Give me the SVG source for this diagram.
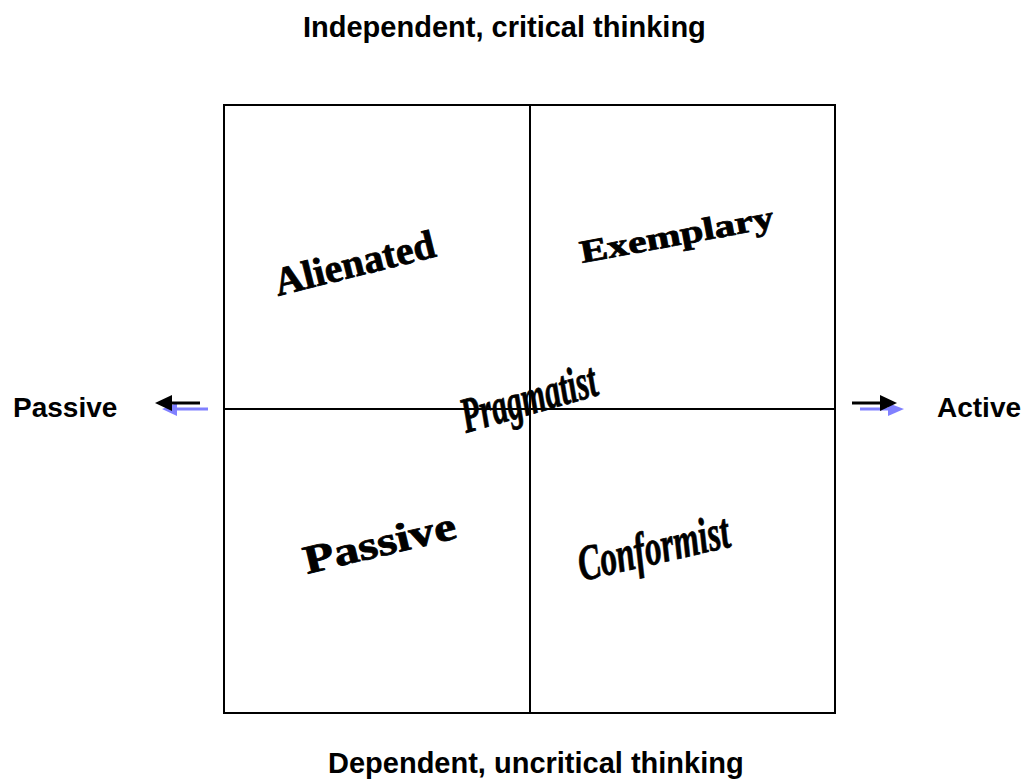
<svg xmlns="http://www.w3.org/2000/svg" width="1025" height="779" viewBox="0 0 1025 779">
<style>
.lbl{font-family:"Liberation Sans",Arial,sans-serif;font-weight:bold;font-size:29px;fill:#000}
.side{font-family:"Liberation Sans",Arial,sans-serif;font-weight:bold;font-size:28px;fill:#000}
.wa{font-family:"Liberation Serif","Times New Roman",serif;font-weight:bold;fill:#000;stroke:#000;stroke-width:0.8}
.wai{font-family:"Liberation Serif","Times New Roman",serif;font-weight:bold;font-style:italic;fill:#000;stroke:#000;stroke-width:0.8}
.ln{stroke:#000;stroke-width:2;fill:none}
.blk{stroke:#000;stroke-width:3}
.blu{stroke:#8080ff;stroke-width:3}
.hb{fill:#000}
.hv{fill:#8080ff}
</style>
<rect width="1025" height="779" fill="#fff"/>
<g id="grid">
<rect class="ln" x="224" y="105" width="611" height="608"/>
<line class="ln" x1="530" y1="105" x2="530" y2="713"/>
<line class="ln" x1="224" y1="409" x2="835" y2="409"/>
</g>
<g id="connectors">
<line class="blu" x1="208" y1="409" x2="175" y2="409"/>
<polygon class="hv" points="162,409 177,403 177,416"/>
<line class="blk" x1="200" y1="403" x2="168" y2="403"/>
<polygon class="hb" points="155,403 172,395 172,411"/>
<line class="blu" x1="860" y1="409" x2="890" y2="409"/>
<polygon class="hv" points="904,409 888,403 888,416"/>
<line class="blk" x1="852" y1="403" x2="884" y2="403"/>
<polygon class="hb" points="897,403 880,395 880,411"/>
</g>
<g id="axis-labels">
<text class="lbl" x="303" y="37">Independent, critical thinking</text>
<text class="lbl" x="328" y="773">Dependent, uncritical thinking</text>
<text class="side" x="13" y="417">Passive</text>
<text class="side" x="937" y="417">Active</text>
</g>
<g id="alienated"><text class="wa" font-size="40" transform="translate(278,296) rotate(-14)">Alienated</text></g>
<g id="exemplary"><text class="wa" font-size="32" transform="translate(582,263) rotate(-10.5) scale(1.3,1)">Exemplary</text></g>
<g id="pragmatist"><text class="wai" font-size="50" transform="translate(466,433) rotate(-16) scale(0.62,1)">Pragmatist</text></g>
<g id="passive"><text class="wa" font-size="40" transform="translate(307,574) rotate(-13.5) scale(1.25,1)">Passive</text></g>
<g id="conformist"><text class="wai" font-size="50" transform="translate(582,581) rotate(-13) scale(0.66,1)">Conformist</text></g>
</svg>
